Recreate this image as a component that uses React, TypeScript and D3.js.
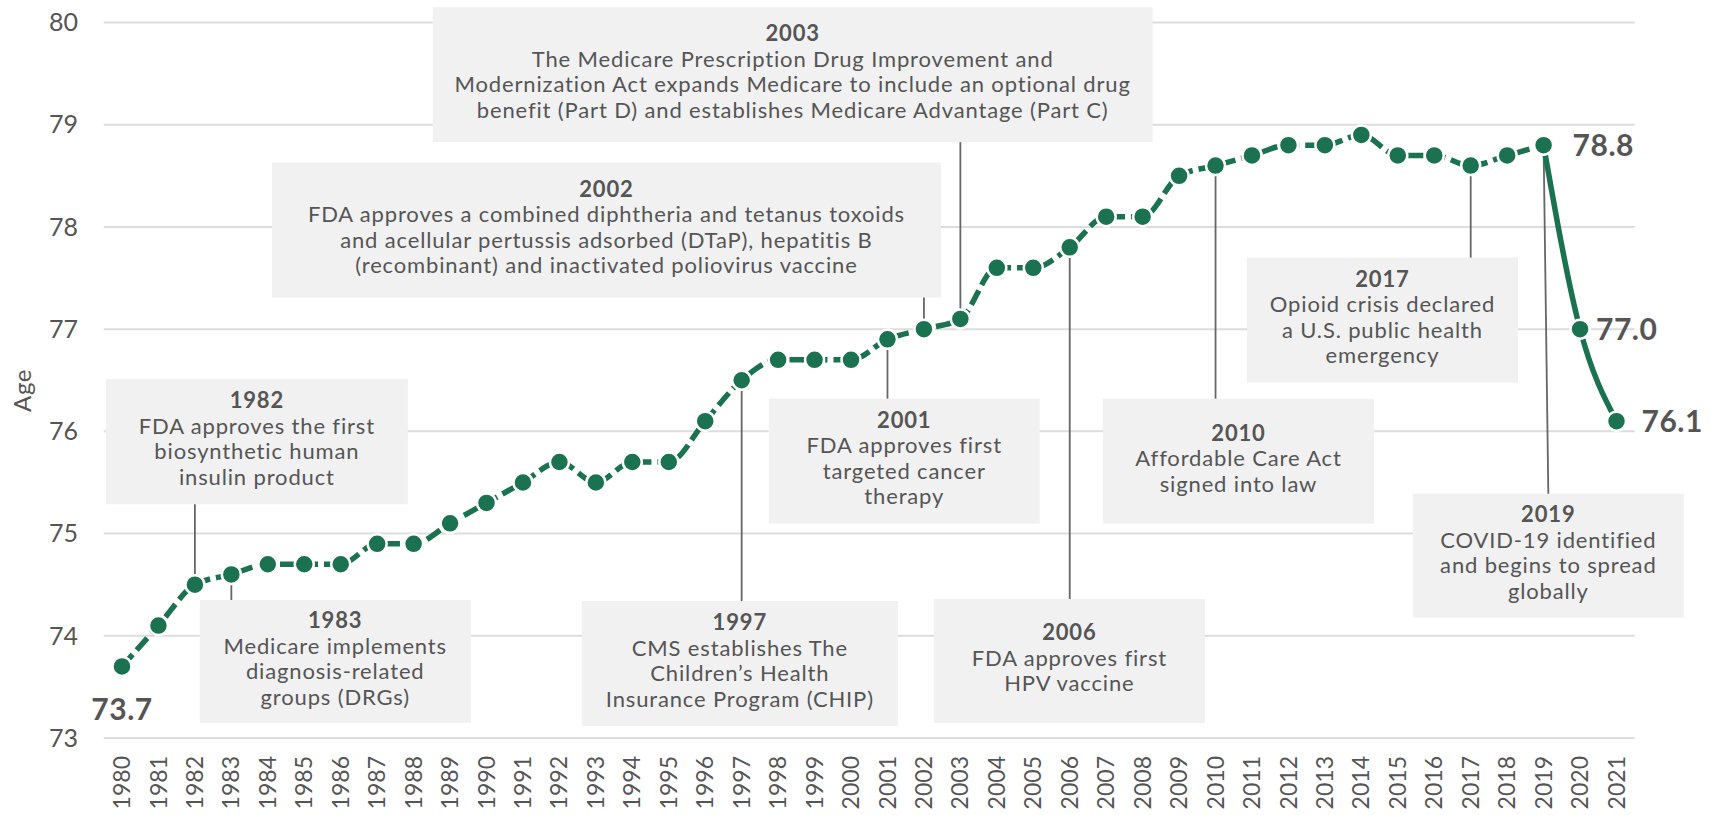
import React from 'react';
import * as d3 from 'd3';

const width = 1717;
const height = 815;

const years = d3.range(1980, 2022);
const lifeExpectancy = [
  73.7, 74.1, 74.5, 74.6, 74.7, 74.7, 74.7, 74.9, 74.9, 75.1,
  75.3, 75.5, 75.7, 75.5, 75.7, 75.7, 76.1, 76.5, 76.7, 76.7,
  76.7, 76.9, 77.0, 77.1, 77.6, 77.6, 77.8, 78.1, 78.1, 78.5,
  78.6, 78.7, 78.8, 78.8, 78.9, 78.7, 78.7, 78.6, 78.7, 78.8,
  77.0, 76.1,
];
const yTicks = [73, 74, 75, 76, 77, 78, 79, 80];
const labelledYears = [1980, 2019, 2020, 2021];

const noteYears = [1982, 1983, 1997, 2001, 2002, 2003, 2006, 2010, 2017, 2019];
const noteTexts = [
  ['FDA approves the first', 'biosynthetic human', 'insulin product'],
  ['Medicare implements', 'diagnosis-related', 'groups (DRGs)'],
  ['CMS establishes The', 'Children’s Health', 'Insurance Program (CHIP)'],
  ['FDA approves first', 'targeted cancer', 'therapy'],
  [
    'FDA approves a combined diphtheria and tetanus toxoids',
    'and acellular pertussis adsorbed (DTaP), hepatitis B',
    '(recombinant) and inactivated poliovirus vaccine',
  ],
  [
    'The Medicare Prescription Drug Improvement and',
    'Modernization Act expands Medicare to include an optional drug',
    'benefit (Part D) and establishes Medicare Advantage (Part C)',
  ],
  ['FDA approves first', 'HPV vaccine'],
  ['Affordable Care Act', 'signed into law'],
  ['Opioid crisis declared', 'a U.S. public health', 'emergency'],
  ['COVID-19 identified', 'and begins to spread', 'globally'],
];

// where each note box sits, in chart units (year / age) + box size in px
const noteLayout: Record<number, { cx: number; top: number; w: number; h: number; slant?: boolean }> = {
  1982: { cx: 1983.7, top: 76.51, w: 302, h: 125 },
  1983: { cx: 1985.85, top: 74.35, w: 271, h: 123 },
  1997: { cx: 1996.95, top: 74.34, w: 316, h: 125 },
  2001: { cx: 2001.46, top: 76.32, w: 271, h: 125 },
  2002: { cx: 1993.29, top: 78.63, w: 669, h: 135 },
  2003: { cx: 1998.4, top: 80.15, w: 720, h: 135 },
  2006: { cx: 2005.99, top: 74.36, w: 271, h: 124 },
  2010: { cx: 2010.63, top: 76.32, w: 271, h: 125 },
  2017: { cx: 2014.58, top: 77.7, w: 271, h: 125 },
  2019: { cx: 2019.13, top: 75.39, w: 271, h: 124, slant: true },
};

const green = '#1a7251';
const grey = '#555555';
const font = "Lato, 'Open Sans', sans-serif";

export default function App() {
  const x = d3.scaleLinear().domain([1980, 2021]).range([122, 1616.5]);
  const y = d3.scaleLinear().domain([73, 80]).range([738, 22.5]);

  const points = years.map((yr, i) => ({ year: yr, value: lifeExpectancy[i] }));
  const line = d3
    .line<{ year: number; value: number }>()
    .x((d) => x(d.year))
    .y((d) => y(d.value))
    .curve(d3.curveMonotoneX);

  const dashedPart = points.filter((d) => d.year <= 2019);
  const solidPart = points.filter((d) => d.year >= 2019);
  const valueOf = (yr: number) => lifeExpectancy[years.indexOf(yr)];

  const lineH = 25.5;

  return (
    <svg
      width={width}
      height={height}
      style={{ position: 'absolute', left: 0, top: 0, background: '#fff' }}
      fontFamily={font}
    >
      {/* grid + y axis */}
      {yTicks.map((t) => (
        <g key={t}>
          <line x1={x(1979.5)} x2={x(2021.5)} y1={y(t)} y2={y(t)} stroke="#dddddd" strokeWidth={2} />
          <text x={78} y={y(t)} dy="0.35em" textAnchor="end" fontSize={25} fill={grey}>
            {t}
          </text>
        </g>
      ))}
      <text
        transform={`translate(31, ${y(76.4)}) rotate(-90)`}
        textAnchor="middle"
        fontSize={24}
        letterSpacing={0.6}
        fill={grey}
      >
        Age
      </text>

      {/* x axis labels */}
      {years.map((yr) => (
        <text
          key={yr}
          transform={`translate(${x(yr)}, 756) rotate(-90)`}
          textAnchor="end"
          dy="0.35em"
          fontSize={23}
          fill={grey}
        >
          {yr}
        </text>
      ))}

      {/* annotation boxes */}
      {noteYears.map((yr, i) => {
        const L = noteLayout[yr];
        const cx = x(L.cx);
        const top = y(L.top);
        const lines = noteTexts[i];
        const n = lines.length + 1;
        const mid = top + L.h / 2;
        const first = mid - ((n - 1) * lineH) / 2 + 5;
        return (
          <g key={yr} letterSpacing={0.85}>
            <rect x={cx - L.w / 2} y={top} width={L.w} height={L.h} fill="#f1f1f1" />
            <text x={cx} y={first} textAnchor="middle" fontSize={22} fontWeight={700} fill={grey}>
              {yr}
            </text>
            {lines.map((s, j) => (
              <text key={j} x={cx} y={first + (j + 1) * lineH} textAnchor="middle" fontSize={22} fill={grey}>
                {s}
              </text>
            ))}
          </g>
        );
      })}

      {/* leader lines */}
      {noteYears.map((yr) => {
        const L = noteLayout[yr];
        const px = x(yr);
        const py = y(valueOf(yr));
        const top = y(L.top);
        const below = top > py;
        const edge = below ? top : top + L.h;
        const ex = L.slant ? x(L.cx) : px;
        return <line key={yr} x1={px} y1={py} x2={ex} y2={edge} stroke="#666" strokeWidth={1.8} />;
      })}

      {/* series */}
      <path d={line(dashedPart) || ''} fill="none" stroke={green} strokeWidth={5.5} strokeDasharray="16 6" />
      <path d={line(solidPart) || ''} fill="none" stroke={green} strokeWidth={5.5} />
      {points.map((d) => (
        <circle key={d.year} cx={x(d.year)} cy={y(d.value)} r={9.5} fill={green} stroke="#fff" strokeWidth={2.5} />
      ))}

      {/* value labels */}
      {labelledYears.map((yr) => {
        const v = valueOf(yr);
        const px = x(yr);
        const py = y(v);
        const first = yr === years[0];
        const dx = yr === 2019 ? 29 : yr === 2020 ? 16 : 25;
        return (
          <text
            key={yr}
            x={first ? px : px + dx}
            y={first ? py + 54 : py}
            dy={first ? 0 : '0.36em'}
            textAnchor={first ? 'middle' : 'start'}
            fontSize={30}
            fontWeight={700}
            letterSpacing={0.5}
            fill={grey}
          >
            {v.toFixed(1)}
          </text>
        );
      })}
    </svg>
  );
}
